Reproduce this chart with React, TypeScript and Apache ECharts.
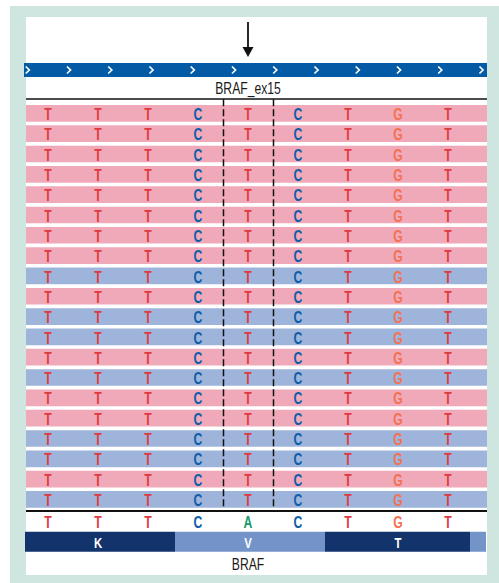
import React, { useEffect, useRef } from "react";
import * as echarts from "echarts";

// ---- data ----
const EXON_LABEL = "BRAF_ex15";
const GENE_LABEL = "BRAF";
const REFERENCE = ["T", "T", "T", "C", "A", "C", "T", "G", "T"];
const READS = [
  "TTTCTCTGT", "TTTCTCTGT", "TTTCTCTGT", "TTTCTCTGT", "TTTCTCTGT",
  "TTTCTCTGT", "TTTCTCTGT", "TTTCTCTGT", "TTTCTCTGT", "TTTCTCTGT",
  "TTTCTCTGT", "TTTCTCTGT", "TTTCTCTGT", "TTTCTCTGT", "TTTCTCTGT",
  "TTTCTCTGT", "TTTCTCTGT", "TTTCTCTGT", "TTTCTCTGT", "TTTCTCTGT",
];
const READ_STRANDS = [
  "F", "F", "F", "F", "F", "F", "F", "F", "R", "F",
  "R", "R", "F", "R", "F", "F", "R", "R", "F", "R",
];
const CODON_AA = ["K", "V", "T", ""];
const CODON_FIRST_BASE = [0, 3, 6, 9];
const VARIANT_POS = 4;

// ---- styles ----
const BASE_COLORS: Record<string, string> = {
  T: "#e03a3e",
  C: "#0d5ea8",
  G: "#f27253",
  A: "#179b6c",
};
const STRAND_COLORS: Record<string, string> = { F: "#f0a9b9", R: "#9fb4da" };
const CODON_COLORS = ["#12336b", "#7393c9"];
const FONT = '"Liberation Sans", Arial, sans-serif';
const NARROW = 0.76;
const X_MIN = -0.44;
const X_MAX = 8.78;
const PANEL_LEFT = 26;
const PANEL_WIDTH = 461;

export default function App() {
  const ref = useRef<HTMLDivElement>(null);

  useEffect(() => {
    if (!ref.current) return;
    const chart = echarts.init(ref.current, undefined, { renderer: "svg" });

    const readRows = READS.map((_, i) => String(i));

    const letterData: any[] = [];
    READS.forEach((seq, r) => {
      seq.split("").forEach((b, p) => letterData.push({ value: [p, r], base: b }));
    });

    const option: any = {
      animation: false,
      grid: [
        { left: PANEL_LEFT, width: PANEL_WIDTH, top: 103.2, height: 406.4 },
        { left: PANEL_LEFT, width: PANEL_WIDTH, top: 511, height: 41 },
      ],
      xAxis: [
        { type: "value", gridIndex: 0, min: X_MIN, max: X_MAX, show: false },
        { type: "value", gridIndex: 1, min: X_MIN, max: X_MAX, show: false },
      ],
      yAxis: [
        { type: "category", gridIndex: 0, data: readRows, inverse: true, show: false },
        { type: "category", gridIndex: 1, data: ["ref", "aa"], inverse: true, show: false },
      ],
      series: [
        {
          type: "custom",
          name: "reads",
          xAxisIndex: 0,
          yAxisIndex: 0,
          data: READ_STRANDS.map((s, i) => [0, i]),
          renderItem: (params: any, api: any) => {
            const row = api.value(1);
            const cs = params.coordSys;
            const c = api.coord([0, row]);
            const h = api.size([0, 1])[1] * 0.82;
            return {
              type: "rect",
              shape: { x: cs.x, y: c[1] - h / 2, width: cs.width, height: h },
              style: { fill: STRAND_COLORS[READ_STRANDS[params.dataIndex]] },
            };
          },
          z: 1,
        },
        {
          type: "custom",
          name: "bases",
          xAxisIndex: 0,
          yAxisIndex: 0,
          data: letterData,
          renderItem: (params: any, api: any) => {
            const c = api.coord([api.value(0), api.value(1)]);
            const b = letterData[params.dataIndex].base;
            return {
              type: "text",
              x: c[0],
              y: c[1] + 1,
              scaleX: NARROW,
              style: {
                text: b,
                fill: BASE_COLORS[b],
                font: `bold 16px ${FONT}`,
                align: "center",
                verticalAlign: "middle",
              },
            };
          },
          z: 3,
        },
        {
          type: "custom",
          name: "variant",
          xAxisIndex: 0,
          yAxisIndex: 0,
          data: [[VARIANT_POS - 0.5, 0], [VARIANT_POS + 0.5, 0]],
          renderItem: (params: any, api: any) => {
            const cs = params.coordSys;
            const x = Math.round(api.coord([api.value(0), 0])[0]) + 0.5;
            return {
              type: "line",
              shape: { x1: x, y1: cs.y - 4, x2: x, y2: cs.y + cs.height - 1.5 },
              style: { stroke: "#111", lineWidth: 1.5, lineDash: [7, 3] },
            };
          },
          z: 4,
        },
        {
          type: "custom",
          name: "reference",
          xAxisIndex: 1,
          yAxisIndex: 1,
          data: REFERENCE.map((b, p) => [p, 0]),
          renderItem: (params: any, api: any) => {
            const c = api.coord([api.value(0), 0]);
            const b = REFERENCE[params.dataIndex];
            return {
              type: "text",
              x: c[0],
              y: c[1] + 1,
              scaleX: NARROW,
              style: {
                text: b,
                fill: BASE_COLORS[b],
                font: `bold 16px ${FONT}`,
                align: "center",
                verticalAlign: "middle",
              },
            };
          },
          z: 3,
        },
        {
          type: "custom",
          name: "codons",
          xAxisIndex: 1,
          yAxisIndex: 1,
          data: CODON_FIRST_BASE.map((f) => [f, 1]),
          renderItem: (params: any, api: any) => {
            const cs = params.coordSys;
            const i = params.dataIndex;
            const f = CODON_FIRST_BASE[i];
            const labelled = !!CODON_AA[i];
            const nextLabelled = !!CODON_AA[i + 1];
            const a = api.coord([f + (labelled ? -0.46 : -0.56), 1]);
            const b = api.coord([f + (nextLabelled ? 2.54 : 2.44), 1]);
            const mid = api.coord([f + 1, 1]);
            const x0 = Math.max(cs.x - 1, a[0]);
            const x1 = Math.min(cs.x + cs.width - 1, b[0]);
            const h = 20;
            const children: any[] = [];
            if (x1 > x0) {
              children.push({
                type: "rect",
                shape: { x: x0, y: a[1] - h / 2, width: x1 - x0, height: h },
                style: { fill: CODON_COLORS[i % 2] },
              });
            }
            if (labelled) {
              children.push({
                type: "text",
                x: mid[0],
                y: mid[1] + 1,
                scaleX: NARROW,
                style: {
                  text: CODON_AA[i],
                  fill: "#ffffff",
                  font: `bold 15px ${FONT}`,
                  align: "center",
                  verticalAlign: "middle",
                },
              });
            }
            return { type: "group", children };
          },
          z: 2,
        },
      ],
    };

    chart.setOption(option);

    const vx = chart.convertToPixel({ xAxisIndex: 0 } as any, VARIANT_POS) as number;
    const chevrons: any[] = [];
    for (let k = 0; k < 12; k++) {
      const cx = 27.5 + 41.25 * k;
      chevrons.push({
        type: "polyline",
        shape: { points: [[cx - 1.8, 66.5], [cx + 1.8, 70], [cx - 1.8, 73.5]] },
        style: { stroke: "#ffffff", lineWidth: 1.7, fill: null },
        z: 3,
      });
    }

    chart.setOption({
      graphic: [
        { type: "rect", shape: { x: 10, y: 6, width: 495, height: 590 }, style: { fill: "#cfe6e0" }, z: -10 },
        { type: "rect", shape: { x: PANEL_LEFT, y: 17, width: PANEL_WIDTH, height: 558 }, style: { fill: "#ffffff" }, z: -9 },
        { type: "line", shape: { x1: vx, y1: 22, x2: vx, y2: 49 }, style: { stroke: "#111", lineWidth: 1.8 } },
        { type: "polygon", shape: { points: [[vx - 5.5, 47], [vx + 5.5, 47], [vx, 57]] }, style: { fill: "#111" } },
        { type: "rect", shape: { x: 24, y: 63, width: 463, height: 14 }, style: { fill: "#035ba5" }, z: 2 },
        ...chevrons,
        {
          type: "text",
          x: vx,
          y: 88,
          scaleX: NARROW,
          style: { text: EXON_LABEL, fill: "#1a1a1a", font: `16px ${FONT}`, align: "center", verticalAlign: "middle" },
        },
        { type: "line", shape: { x1: PANEL_LEFT, y1: 99, x2: PANEL_LEFT + PANEL_WIDTH, y2: 99 }, style: { stroke: "#111", lineWidth: 1.5 } },
        { type: "line", shape: { x1: PANEL_LEFT, y1: 511, x2: PANEL_LEFT + PANEL_WIDTH, y2: 511 }, style: { stroke: "#111", lineWidth: 1.8 } },
        {
          type: "text",
          x: vx,
          y: 564,
          scaleX: NARROW,
          style: { text: GENE_LABEL, fill: "#1a1a1a", font: `16px ${FONT}`, align: "center", verticalAlign: "middle" },
        },
      ],
    });

    return () => chart.dispose();
  }, []);

  return (
    <div
      ref={ref}
      style={{ position: "absolute", left: 0, top: 0, width: 499, height: 583, background: "#ffffff" }}
    />
  );
}
